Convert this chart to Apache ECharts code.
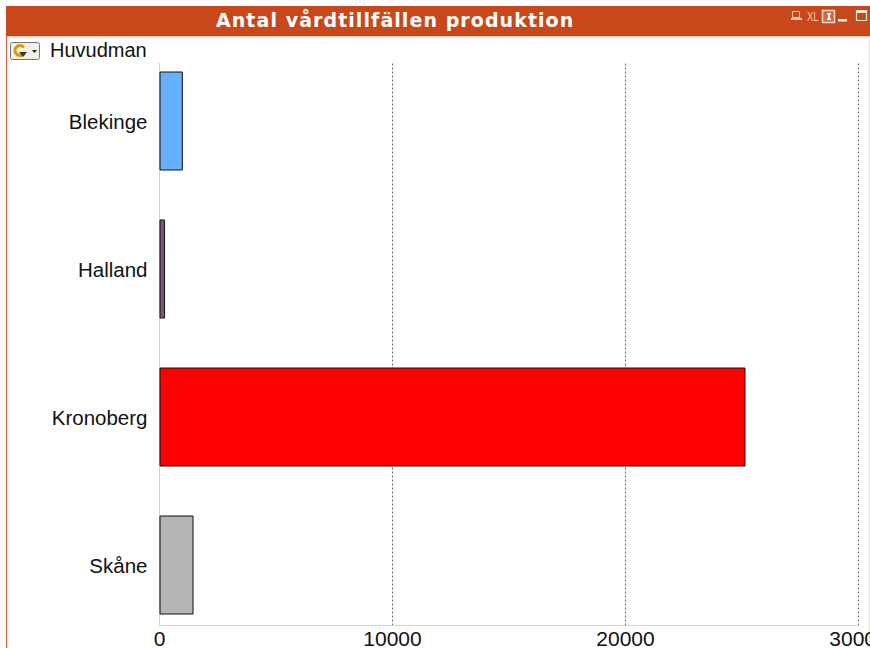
<!DOCTYPE html>
<html>
<head>
<meta charset="utf-8">
<style>
html,body{margin:0;padding:0;background:#fff}
#chart{width:870px;height:648px;overflow:hidden}
/* The header caption is the only bold text; it is set with wide tracking */
#chart svg text[style*="bold"]{letter-spacing:1.07px}
</style>
<script src="https://cdn.jsdelivr.net/npm/echarts@6/dist/echarts.min.js"></script>
</head>
<body>
<div id="chart"></div>
<script>
// Hospital-care production per county council, one horizontal bar each
const categories = ['Blekinge', 'Halland', 'Kronoberg', 'Skåne'];
const visits = [1000, 240, 25150, 1460];
const barColors = ['#66b0ff', '#7b5579', '#ff0000', '#b5b5b5'];
const xTicks = [0, 10000, 20000, 30000];
const titleText = 'Antal vårdtillfällen produktion';
const dimensionLabel = 'Huvudman';

const chart = echarts.init(document.getElementById('chart'), null, { renderer: 'svg' });
const BAR = '#c8481c';
const font = '"Liberation Sans", Arial, sans-serif';

// Toolbar glyphs in the header strip
const toolbar = [
  { type: 'rect', shape: { x: 792.5, y: 11.5, width: 7, height: 6 }, style: { fill: 'none', stroke: '#f3c9b8', lineWidth: 1 } },
  { type: 'rect', shape: { x: 791, y: 18, width: 11, height: 2 }, style: { fill: '#f3c9b8' } },
  { type: 'text', x: 807, y: 10, scaleX: 0.72, style: { x: 0, y: 0, text: 'XL', fill: '#f3c9b8', font: '13px "Liberation Sans", sans-serif' } },
  { type: 'rect', shape: { x: 822.5, y: 10.5, width: 12, height: 12 }, style: { fill: 'rgba(255,255,255,0.18)', stroke: '#f6d8cb', lineWidth: 1.5 } },
  { type: 'rect', shape: { x: 827, y: 13, width: 4, height: 1.5 }, style: { fill: '#fff' } },
  { type: 'rect', shape: { x: 828, y: 14, width: 2, height: 5 }, style: { fill: '#fff' } },
  { type: 'rect', shape: { x: 827, y: 18.5, width: 4, height: 1.5 }, style: { fill: '#fff' } },
  { type: 'rect', shape: { x: 838, y: 19, width: 9, height: 2.5 }, style: { fill: '#ffffff' } },
  { type: 'rect', shape: { x: 856.5, y: 10.5, width: 10, height: 10 }, style: { fill: 'none', stroke: '#f9e3da', lineWidth: 1.2 } },
  { type: 'rect', shape: { x: 856, y: 10, width: 11, height: 3 }, style: { fill: '#f9e3da' } }
];

// Small refresh button beside the dimension name
const refreshButton = [
  { type: 'rect', shape: { x: 10.5, y: 42.5, width: 29, height: 17, r: 2 }, style: { fill: '#f1efe6', stroke: '#77756c', lineWidth: 1 } },
  { type: 'arc', shape: { cx: 20, cy: 50.5, r: 5, startAngle: 0.4, endAngle: 5.6 }, style: { fill: 'none', stroke: '#d69a10', lineWidth: 3 } },
  { type: 'polygon', shape: { points: [[19, 52], [27, 52], [23, 57]] }, style: { fill: '#3b3a30' } },
  { type: 'polygon', shape: { points: [[32, 50], [37, 50], [34.5, 53]] }, style: { fill: '#222' } }
];

chart.setOption({
  animation: false,
  title: {
    text: titleText,
    left: 211,
    top: 5,
    textStyle: { color: '#fff', fontFamily: '"DejaVu Sans", Verdana, sans-serif', fontWeight: 'bold', fontSize: 19 }
  },
  graphic: [
    { type: 'rect', z: -1, shape: { x: 6, y: 6, width: 864, height: 30 }, style: { fill: BAR } },
    { type: 'rect', z: -1, shape: { x: 6, y: 36, width: 864, height: 1 }, style: { fill: '#f0c4b2' } },
    { type: 'rect', z: -1, shape: { x: 6, y: 36, width: 1, height: 612 }, style: { fill: '#d9603a' } },
    { type: 'rect', z: -1, shape: { x: 869, y: 36, width: 1, height: 612 }, style: { fill: '#f3ded6' } },
    ...toolbar,
    ...refreshButton,
    { type: 'text', style: { x: 50, y: 40, text: dimensionLabel, fill: '#111', font: '20px ' + font } }
  ],
  grid: [
    // Frame with the value scale and dashed grid
    { left: 159.5, top: 63.5, width: 699, height: 562, outerBoundsMode: 'none' },
    // Bars sit on a taller band so that they spread past the frame's edges evenly
    { left: 159.5, top: 47, width: 699, height: 592, outerBoundsMode: 'none' }
  ],
  xAxis: [
    {
      gridIndex: 0, type: 'value', min: xTicks[0], max: xTicks[xTicks.length - 1], interval: xTicks[1],
      axisLine: { show: true, lineStyle: { color: '#d0d0d0', width: 1 } },
      axisTick: { show: false },
      axisLabel: { color: '#111', fontFamily: font, fontSize: 21, lineHeight: 17, margin: 4, hideOverlap: false, showMaxLabel: true, showMinLabel: true, formatter: v => String(v) },
      splitLine: { show: true, lineStyle: { color: '#666', type: [2, 2], width: 1 } }
    },
    { gridIndex: 1, type: 'value', min: xTicks[0], max: xTicks[xTicks.length - 1], show: false, splitLine: { show: false } }
  ],
  yAxis: [
    {
      gridIndex: 0, type: 'value', min: 0, max: 1,
      axisLine: { show: true, lineStyle: { color: '#d0d0d0', width: 1 } },
      axisTick: { show: false }, axisLabel: { show: false }, splitLine: { show: false }
    },
    {
      gridIndex: 1, type: 'category', inverse: true, data: categories,
      axisLine: { show: false }, axisTick: { show: false },
      axisLabel: { color: '#111', fontFamily: font, fontSize: 20.5, margin: 12, padding: [3, 0, 0, 0] }
    }
  ],
  series: [{
    type: 'bar',
    xAxisIndex: 1,
    yAxisIndex: 1,
    barWidth: 99,
    z: 3,
    data: visits.map((v, i) => ({
      value: v,
      itemStyle: { color: barColors[i], borderColor: '#111', borderWidth: 1 }
    }))
  }]
});
</script>
</body>
</html>
